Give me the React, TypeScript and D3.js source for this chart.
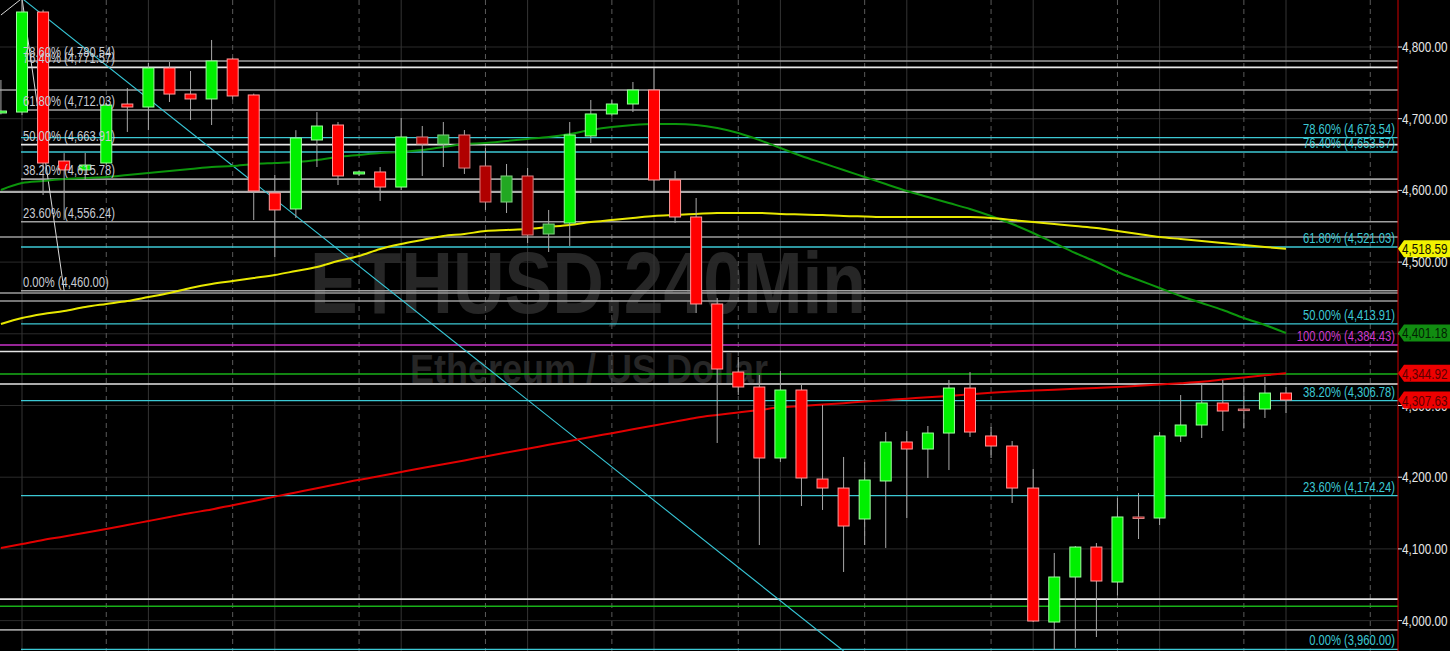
import React, { useEffect } from "react";
import * as d3 from "d3";

const W = 1450;
const H = 651;

// Candles (index 0 is the partial bar at the left edge)
const openP = [4708, 4709.3, 4848.8, 4641, 4628.5, 4638.2, 4720.5, 4716.3, 4770.7, 4734.4, 4727.5, 4783.3, 4733.1, 4596.4, 4574.1, 4670.3, 4691.2, 4622.9, 4625.7, 4604.7, 4674.5, 4664.7, 4677.3, 4634, 4583.8, 4620.1, 4539.2, 4554.5, 4675.9, 4706.6, 4720.5, 4740, 4614.5, 4562.9, 4441.6, 4346.7, 4325.8, 4226.8, 4321.6, 4197.5, 4184.9, 4141.7, 4194.7, 4249.1, 4239.3, 4261.6, 4324.4, 4257.5, 4243.5, 4184.9, 3998, 4060.8, 4102.6, 4053.8, 4144.5, 4143.1, 4257.5, 4272.8, 4303.5, 4295, 4295.1, 4317.4];
const highP = [4754, 4867.8, 4852, 4652, 4652.2, 4722, 4742.8, 4777.7, 4779, 4766.5, 4809.8, 4785, 4735, 4621.5, 4684, 4709.3, 4695.4, 4628, 4632.6, 4701, 4689.8, 4695.4, 4684.2, 4659.1, 4636.8, 4631.2, 4572.7, 4695.4, 4726.1, 4726, 4751.2, 4770.7, 4627.1, 4589.4, 4449.9, 4367.6, 4342.5, 4348.1, 4331.4, 4300.7, 4228.2, 4221.2, 4263, 4264.4, 4271.4, 4335.6, 4346.7, 4270, 4250.5, 4211.4, 4094.3, 4104, 4108.2, 4171, 4178, 4263, 4314.6, 4330, 4335.6, 4330, 4339.7, 4325.8];
const lowP = [4706, 4705, 4593.6, 4558.7, 4614.5, 4636, 4681.5, 4684.2, 4723.3, 4698.2, 4691.2, 4727, 4558.7, 4507.1, 4561.5, 4632.6, 4607.5, 4620, 4585.2, 4600.6, 4620.1, 4632.6, 4622.9, 4572.7, 4568.5, 4526.6, 4514.1, 4522.5, 4666.1, 4703, 4709.3, 4596.4, 4554.5, 4429, 4247.7, 4314.6, 4105.4, 4221.2, 4159.8, 4154.3, 4067.8, 4105.4, 4101.3, 4143.1, 4198.9, 4210, 4256.1, 4226.8, 4164, 3998, 3959, 3962, 3977.1, 4035, 4113.8, 4133.3, 4249.1, 4254.7, 4264.4, 4268, 4282.6, 4289.5];
const closeP = [4710.7, 4848.8, 4638.2, 4628.5, 4635.4, 4719.1, 4716.3, 4770.7, 4734.4, 4727.5, 4780.5, 4731.7, 4599.2, 4572.7, 4673.1, 4689.8, 4620.1, 4625.7, 4604.7, 4674.5, 4664.7, 4677.3, 4631.2, 4583.8, 4620.1, 4537.8, 4553.1, 4677.3, 4706.6, 4720.5, 4740, 4614.5, 4562.9, 4441.6, 4350.9, 4325.8, 4226.8, 4321.6, 4198.9, 4184.9, 4131.9, 4196.1, 4249.1, 4239.3, 4261.6, 4324.4, 4263, 4243.5, 4184.9, 3999.4, 4060.8, 4102.6, 4055.2, 4144.5, 4143, 4257.5, 4272.8, 4303.5, 4292.3, 4294, 4317.4, 4307.63];
const dimBars = [20, 21, 22, 23, 24, 25, 26, 54, 59];

// Moving averages
const maYellow = [4413.7, 4422, 4427.6, 4431.8, 4437.4, 4441.6, 4445.7, 4451.3, 4456.9, 4463.9, 4469.5, 4473.6, 4477.8, 4482, 4487.6, 4493.2, 4501.5, 4508.5, 4518.3, 4525.2, 4530.8, 4536.4, 4539.2, 4543.4, 4544.8, 4546.2, 4549, 4551.7, 4555.9, 4558.7, 4561.5, 4564.3, 4565.7, 4567.1, 4568.5, 4568.5, 4568.5, 4567.1, 4566.4, 4565.7, 4564.3, 4563.6, 4562.9, 4562.9, 4562.9, 4562.9, 4562.9, 4561.5, 4558.7, 4555.9, 4553.1, 4550.3, 4547.6, 4543.4, 4539.2, 4535, 4532.2, 4529.4, 4526.6, 4523.8, 4521.1, 4518.59];
const maGreen = [4600.6, 4610.3, 4613.1, 4615.9, 4617.3, 4618.7, 4621.5, 4624.3, 4627.1, 4629.8, 4632.6, 4634, 4636.8, 4638.2, 4639.6, 4642.4, 4646.6, 4649.4, 4652.2, 4653.6, 4656.3, 4660.5, 4664.7, 4666.1, 4668.9, 4671.7, 4674.5, 4678.7, 4684.2, 4688.4, 4691.2, 4692.6, 4692.6, 4691.2, 4687, 4680.1, 4670.3, 4659.1, 4648, 4638.2, 4628.5, 4618.7, 4608.9, 4599.2, 4590.8, 4582.4, 4574.1, 4564.3, 4553.1, 4540.6, 4526.6, 4512.7, 4500.1, 4486.2, 4475, 4463.9, 4452.7, 4443, 4433.2, 4422, 4412.3, 4401.18];
const maRed = [4101.3, 4106.8, 4112.4, 4117.3, 4122.6, 4127.8, 4133.3, 4138.9, 4144.5, 4150.1, 4155, 4161, 4166.8, 4172.9, 4178.8, 4184.7, 4190.5, 4196.4, 4201.7, 4207.3, 4212.8, 4218, 4223.4, 4229, 4234.4, 4239.7, 4245.2, 4250.5, 4256.1, 4261.4, 4266.8, 4272.1, 4277.5, 4283, 4286.8, 4290.2, 4293.7, 4297.5, 4299.3, 4301.3, 4303.3, 4305.6, 4307.5, 4309.5, 4311.4, 4313.4, 4315.6, 4317.8, 4319.5, 4320.8, 4322, 4323.3, 4324.5, 4325.8, 4327.6, 4329.4, 4331.1, 4333.1, 4336.1, 4339.2, 4342.1, 4344.92];

// Fibonacci levels
const leftFibLevels = [4780.54, 4771.57, 4712.03, 4663.91, 4615.78, 4556.24, 4460.0];
const leftFibLabels = ["78.60% (4,780.54)", "76.40% (4,771.57)", "61.80% (4,712.03)", "50.00% (4,663.91)", "38.20% (4,615.78)", "23.60% (4,556.24)", "0.00% (4,460.00)"];
const leftFibBright = [false, true, false, true, false, false, false];
const rightFibLevels = [4673.54, 4653.57, 4521.03, 4413.91, 4306.78, 4174.24, 3960.0];
const rightFibLabels = ["78.60% (4,673.54)", "76.40% (4,653.57)", "61.80% (4,521.03)", "50.00% (4,413.91)", "38.20% (4,306.78)", "23.60% (4,174.24)", "0.00% (3,960.00)"];
const magentaLevel = 4384.43;
const magentaLabel = "100.00% (4,384.43)";

// Other horizontal lines
const greyLines = [4740, 4535, 4456.9, 4445.7, 3987];
const whiteLines = [4597.8, 4375.4, 4330, 4030];
const greenLines = [4344, 4020];

// Trend lines [barIndex, price]
const cyanTrend = [[1, 4867.82], [40, 3957.6]];
const fibDiag = [[0, 4844.6], [1, 4867.82], [3, 4460]];

// Axis
const axisTicks = [4000, 4100, 4200, 4300, 4400, 4500, 4600, 4700, 4800];
const tagValues = [4518.59, 4401.18, 4344.92, 4307.63];
const tagFills = ["#f2f200", "#118c11", "#ee0000", "#ee0000"];
const tagTextFills = ["#111100", "#031f03", "#5c0000", "#5c0000"];

const FONT = "'Liberation Sans', Arial, sans-serif";

function NText(props: any) {
  const { x, y, children, fill, size = 14, sx = 0.8, anchor = "start", weight = "normal" } = props;
  return (
    <text
      transform={`translate(${x},${y}) scale(${sx},1)`}
      fill={fill}
      fontSize={size}
      fontFamily={FONT}
      textAnchor={anchor}
      fontWeight={weight}
    >
      {children}
    </text>
  );
}

export default function App() {
  useEffect(() => {
    document.body.style.margin = "0";
    document.body.style.background = "#000";
  }, []);

  const plotRight = 1398;
  const x = d3.scaleLinear().domain([1, 61]).range([22, 1286]);
  const y = d3.scaleLinear().domain([4000, 4800]).range([620.6, 47]);
  const fibStartX = x(1) - 1;
  const bw = 11;

  const maLine = (vals: number[]) =>
    d3
      .line<number>()
      .x((_, i) => x(i))
      .y((v) => y(v))
      .curve(d3.curveMonotoneX)(vals) as string;

  const ptLine = d3
    .line<number[]>()
    .x((d) => x(d[0]))
    .y((d) => y(d[1]));

  const solidGrid = d3.range(1, 66, 6);
  const dashedGrid = d3.range(5, 66, 6);
  const hGrid = d3.range(3900, 4900, 100);
  const fmt = d3.format(",.2f");

  return (
    <svg
      width={W}
      height={H}
      style={{ position: "absolute", left: 0, top: 0, display: "block", background: "#000" }}
    >
      <defs>
        <clipPath id="plot">
          <rect x={0} y={0} width={plotRight} height={H} />
        </clipPath>
      </defs>
      <rect x={0} y={0} width={W} height={H} fill="#000" />
      <g clipPath="url(#plot)">
        {/* watermark */}
        <text x={310} y={313} fontFamily={FONT} fontWeight="bold" fontSize={88} fill="#262626" textLength={556} lengthAdjust="spacingAndGlyphs">
          ETHUSD,240Min
        </text>
        <text x={410} y={383} fontFamily={FONT} fontWeight="bold" fontSize={41} fill="#262626" textLength={358} lengthAdjust="spacingAndGlyphs">
          Ethereum / US Dollar
        </text>

        {/* grid */}
        {hGrid.map((v) => (
          <line key={"hg" + v} x1={0} x2={plotRight} y1={y(v)} y2={y(v)} stroke="#2b2b2b" strokeWidth={1} />
        ))}
        {solidGrid.map((k) => (
          <line key={"sg" + k} x1={x(k)} x2={x(k)} y1={0} y2={H} stroke="#343434" strokeWidth={1} />
        ))}
        {dashedGrid.map((k) => (
          <line key={"dg" + k} x1={x(k)} x2={x(k)} y1={0} y2={H} stroke="#5a5a5a" strokeWidth={1} strokeDasharray="5,4" />
        ))}

        {/* horizontal level lines */}
        {greyLines.map((v) => (
          <line key={"gl" + v} x1={0} x2={plotRight} y1={y(v)} y2={y(v)} stroke="#9c9c9c" strokeWidth={1.6} />
        ))}
        {whiteLines.map((v) => (
          <line key={"wl" + v} x1={0} x2={plotRight} y1={y(v)} y2={y(v)} stroke="#e4e4e4" strokeWidth={1.6} />
        ))}
        {greenLines.map((v) => (
          <line key={"grl" + v} x1={0} x2={plotRight} y1={y(v)} y2={y(v)} stroke="#18b018" strokeWidth={1.4} />
        ))}
        {leftFibLevels.map((v, i) => (
          <line key={"lf" + v} x1={fibStartX} x2={plotRight} y1={y(v)} y2={y(v)} stroke={leftFibBright[i] ? "#e8e8e8" : "#a0a0a0"} strokeWidth={1.6} />
        ))}
        {rightFibLevels.map((v) => (
          <line key={"rf" + v} x1={fibStartX} x2={plotRight} y1={y(v)} y2={y(v)} stroke="#3cc8d4" strokeWidth={1.3} />
        ))}
        <line x1={0} x2={plotRight} y1={y(magentaLevel)} y2={y(magentaLevel)} stroke="#c832c8" strokeWidth={1.4} />

        {/* trend lines */}
        <path d={ptLine(cyanTrend as any) as string} stroke="#36c6d6" strokeWidth={1.1} fill="none" />
        <path d={ptLine(fibDiag as any) as string} stroke="#d8d8d8" strokeWidth={1} fill="none" />

        {/* moving averages */}
        <path d={maLine(maRed)} stroke="#e20000" strokeWidth={2} fill="none" />
        <path d={maLine(maGreen)} stroke="#0c960c" strokeWidth={2} fill="none" />
        <path d={maLine(maYellow)} stroke="#e8e800" strokeWidth={2} fill="none" />

        {/* candles */}
        {openP.map((o, i) => {
          const c = closeP[i];
          const up = c >= o;
          const dim = dimBars.includes(i);
          const fill = up ? (dim ? "#22a822" : "#00f000") : dim ? "#b00000" : "#ff0000";
          const border = up ? (dim ? "#80d080" : "#9cff9c") : dim ? "#d88080" : "#ff9a9a";
          const cx = x(i);
          const top = y(Math.max(o, c));
          const bot = y(Math.min(o, c));
          const h = Math.max(bot - top, 1.5);
          return (
            <g key={"c" + i}>
              <line x1={cx} x2={cx} y1={y(highP[i])} y2={y(lowP[i])} stroke="#a8a8a8" strokeWidth={1} />
              <rect x={cx - bw / 2} y={top} width={bw} height={h} fill={fill} stroke={border} strokeWidth={1} />
            </g>
          );
        })}

        {/* fib labels */}
        {leftFibLevels.map((v, i) => (
          <NText key={"lfl" + v} x={23} y={y(v) - 4} fill="#c8ccd4" size={14} sx={0.8}>
            {leftFibLabels[i]}
          </NText>
        ))}
        {rightFibLevels.map((v, i) => (
          <NText key={"rfl" + v} x={1395} y={y(v) - 4} fill="#3cc8d4" size={14} sx={0.8} anchor="end">
            {rightFibLabels[i]}
          </NText>
        ))}
        <NText x={1395} y={y(magentaLevel) - 4} fill="#cc3acc" size={14} sx={0.8} anchor="end">
          {magentaLabel}
        </NText>
      </g>

      {/* right axis */}
      <line x1={plotRight} x2={plotRight} y1={0} y2={H} stroke="#d00000" strokeWidth={1} />
      {axisTicks.map((v) => (
        <g key={"at" + v}>
          <line x1={plotRight} x2={plotRight + 4} y1={y(v)} y2={y(v)} stroke="#e0e0e0" strokeWidth={1} />
          <NText x={plotRight + 4} y={y(v) + 5} fill="#e6e6e6" size={15} sx={0.78}>
            {fmt(v)}
          </NText>
        </g>
      ))}
      {tagValues.map((v, i) => {
        const ty = y(v);
        const pts = [
          [plotRight, ty],
          [plotRight + 6, ty - 8.5],
          [W, ty - 8.5],
          [W, ty + 8.5],
          [plotRight + 6, ty + 8.5],
        ]
          .map((p) => p.join(","))
          .join(" ");
        return (
          <g key={"tag" + i}>
            <polygon points={pts} fill={tagFills[i]} />
            <NText x={plotRight + 4} y={ty + 5.5} fill={tagTextFills[i]} size={15} sx={0.78}>
              {fmt(v)}
            </NText>
          </g>
        );
      })}
    </svg>
  );
}
